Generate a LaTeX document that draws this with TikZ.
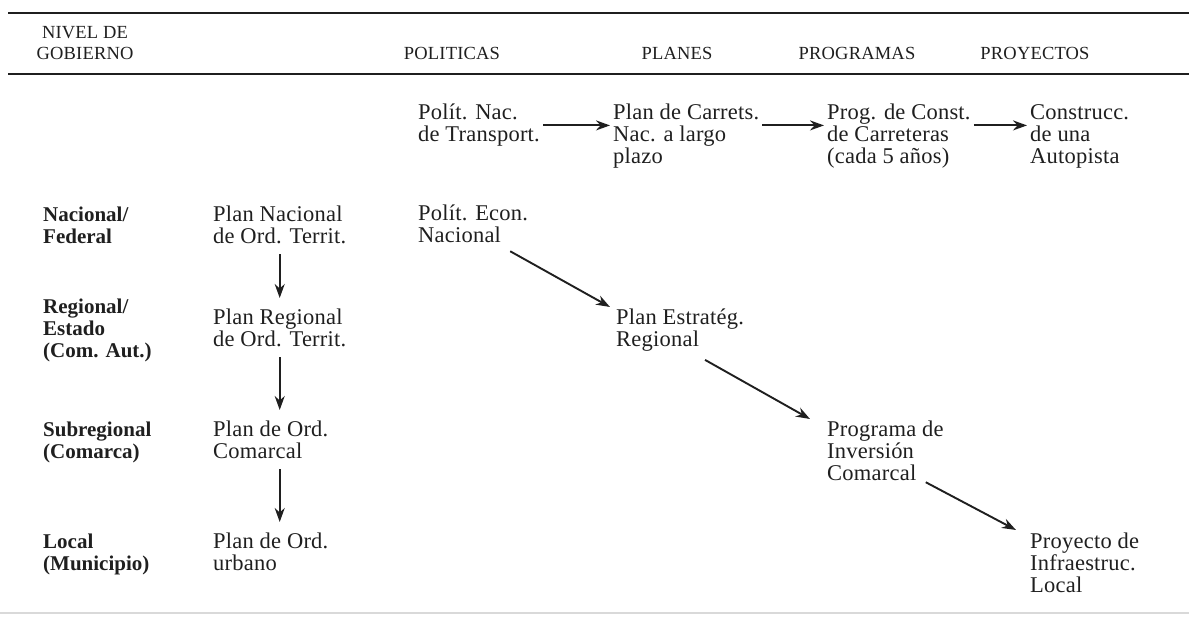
\documentclass[tikz,border=0pt]{standalone}
\usepackage{fontspec}
\setmainfont{Liberation Serif}
\newfontfamily\entryfamily{Liberation Serif}[LetterSpace=1]
\usepackage{tikz}
\usetikzlibrary{arrows.meta}

\newcommand{\entfont}{\entryfamily\fontsize{22.5bp}{22bp}\selectfont}
\newcommand{\lvlfont}{\bfseries\fontsize{21bp}{22bp}\selectfont}
\newcommand{\headfont}{\entryfamily\fontsize{18.5bp}{21bp}\selectfont}

\definecolor{ink}{gray}{0.12}
\tikzstyle{head} = [font=\headfont, align=center, text=ink]
\tikzstyle{level} = [anchor=north west, inner sep=0pt, align=left, font=\lvlfont, text=ink]
\tikzstyle{entry} = [anchor=north west, inner xsep=3bp, inner ysep=0pt, align=left, font=\entfont, text=ink]
\tikzstyle{arrow} = [ink, line width=1.9bp, ->, >={Stealth[length=14bp,width=10bp]}]
\tikzstyle{down} = [arrow, shorten <=10bp, shorten >=11bp]

\begin{document}
\begin{tikzpicture}[x=1bp, y=-1bp]
\useasboundingbox (0,0) rectangle (1189,618);

% rules of the table
\draw[ink, line width=2.8bp] (8,13) -- (1189,13);
\draw[ink, line width=1.6bp] (8,74) -- (1189,74);
\draw[gray!30, line width=1.5bp] (0,613) -- (1189,613);

% column heads
\node[head] (nivel) at (85,43) {NIVEL DE\\GOBIERNO};
\node[head] (politicas) at (452,53) {POLITICAS};
\node[head] (planes) at (677,53) {PLANES};
\node[head] (programas) at (857,53) {PROGRAMAS};
\node[head] (proyectos) at (1035,53) {PROYECTOS};

% road chain
\node (polnac) [entry] at (415,104) {Polít. Nac.\\de Transport.};
\node (plancarr) [entry] at (610,104) {Plan de Carrets.\\Nac. a largo\\plazo};
\node (progcarr) [entry] at (824,104) {Prog. de Const.\\de Carreteras\\(cada 5 años)};
\node (autopista) [entry] at (1027,104) {Construcc.\\de una\\Autopista};

% levels of government
\node (nacional) [level] at (43,207) {Nacional/\\Federal};
\node (regional) [level] at (43,299) {Regional/\\Estado\\(Com. Aut.)};
\node (subregional) [level] at (43,422) {Subregional\\(Comarca)};
\node (local) [level] at (43,534) {Local\\(Municipio)};

% territorial plans
\node (ordnac) [entry] at (210,206) {Plan Nacional\\de Ord. Territ.};
\node (ordreg) [entry] at (210,309) {Plan Regional\\de Ord. Territ.};
\node (ordcom) [entry] at (210,421) {Plan de Ord.\\Comarcal};
\node (ordurb) [entry] at (210,533) {Plan de Ord.\\urbano};

% economic chain
\node (poleco) [entry] at (415,205) {Polít. Econ.\\Nacional};
\node (planest) [entry] at (613,309) {Plan Estratég.\\Regional};
\node (proginv) [entry] at (824,421) {Programa de\\Inversión\\Comarcal};
\node (proyinf) [entry] at (1027,533) {Proyecto de\\Infraestruc.\\Local};

\draw [arrow] (polnac.east) -- (polnac.east -| plancarr.west);
\draw [arrow] (plancarr.east |- polnac.east) -- (progcarr.west |- polnac.east);
\draw [arrow] (progcarr.east |- polnac.east) -- (autopista.west |- polnac.east);

\draw [down] (ordnac.south) -- (ordreg.north -| ordnac.south);
\draw [down] (ordreg.south -| ordnac.south) -- (ordcom.north -| ordnac.south);
\draw [down] (ordcom.south -| ordnac.south) -- (ordurb.north -| ordnac.south);

\draw [arrow] ([shift={(-21,8)}]poleco.south east) -- ([shift={(-3,-2)}]planest.north west);
\draw [arrow] ([shift={(-42,8)}]planest.south east) -- ([shift={(-14,-2)}]proginv.north west);
\draw [arrow] ([shift={(-21,1)}]proginv.south east) -- ([shift={(-11,-3)}]proyinf.north west);
\end{tikzpicture}
\end{document}
